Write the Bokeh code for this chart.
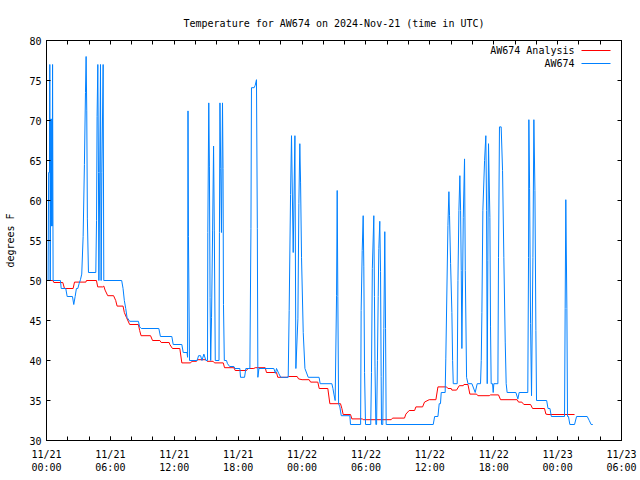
from bokeh.plotting import figure
from bokeh.models import Range1d, FixedTicker, LinearAxis, Label, BoxAnnotation
from bokeh.embed import file_html
from bokeh.resources import INLINE

# ---- data (hours since 2024-11-21 00:00 UTC, degrees F) ----
station_hours = [
    0.05, 0.15, 0.2, 0.28, 0.31, 0.35, 0.4, 0.45, 0.5, 0.53, 0.57, 0.62,
    1.31, 1.38, 1.81, 1.94, 2.44, 2.56, 2.69, 2.81, 2.94, 3.06, 3.19, 3.31, 3.44, 3.56, 3.66, 3.72, 3.78, 3.84, 3.94,
    4.63, 4.7, 4.75, 4.82, 4.88, 4.92, 5.0, 5.07, 5.13, 5.2, 5.32, 5.38,
    7.06, 7.19, 7.31, 7.44, 7.56, 7.81, 8.63, 8.75, 8.9,
    10.55, 10.7, 11.77, 11.9, 12.71, 12.84, 13.2, 13.25, 13.29, 13.33, 13.43, 14.15, 14.28, 14.47, 14.6, 14.78, 14.97,
    15.12, 15.15, 15.24, 15.3, 15.36, 15.42, 15.5, 15.6, 15.69, 15.76, 15.85, 16.2, 16.24, 16.29, 16.36, 16.43, 16.53, 16.58, 16.62, 16.7,
    16.9, 17.0, 17.2, 17.6, 17.7, 18.16, 18.22, 18.6, 18.72, 19.1, 19.2, 19.25, 19.5, 19.6, 19.72, 19.8, 19.85, 19.95,
    21.35, 21.5, 21.6, 21.8, 22.0, 22.7, 22.79, 22.92, 23.01, 23.17, 23.33, 23.42, 23.61, 23.7, 23.79, 23.86, 23.95, 24.11, 24.27,
    24.58, 25.6, 25.7, 26.8, 26.9, 26.99, 27.11, 27.24, 27.3, 27.36, 27.43, 27.55, 27.68, 28.49, 28.55,
    29.5, 29.55, 29.65, 29.74, 29.8, 29.87, 29.96, 30.45, 30.52, 30.6, 30.74, 30.8, 30.85, 30.93, 31.0, 31.08, 31.15,
    31.21, 31.3, 31.37, 31.43, 31.46, 31.58, 31.68, 31.77, 31.84, 31.9,
    36.32, 36.45, 36.76, 36.88, 37.0, 37.07, 37.44, 37.5, 37.7, 37.79, 37.85, 37.95, 38.07, 38.14, 38.2, 38.57, 38.64,
    38.73, 38.82, 38.89, 38.95, 39.01, 39.14, 39.26, 39.33, 39.45, 39.58, 39.95, 40.26, 40.45, 40.76, 40.83, 40.89,
    40.98, 41.14, 41.26, 41.33, 41.39, 41.45, 41.51, 41.64, 41.7, 41.76, 41.89, 41.95, 42.01, 42.39, 42.45, 42.54,
    42.7, 42.83, 42.95, 43.08, 43.17, 43.26, 44.08, 44.27, 44.39,
    45.2, 45.27, 45.3, 45.37, 45.46, 45.55, 45.68, 45.77, 45.87, 45.96, 46.02, 46.97, 47.1, 47.28, 47.41, 48.65,
    48.71, 48.77, 48.87, 48.93, 49.02, 49.15, 49.59, 49.78, 50.78, 50.97, 51.15, 51.3,
]
station_temp = [
    50, 50, 63.5, 63.5, 77, 50, 70.2, 56.8, 70.2, 56.8, 77, 50,
    50, 49, 49, 48, 48, 47, 48, 49, 49, 49.6, 50.1, 50.8, 55.5, 64.5, 73.5, 78, 71.2, 57.7, 51,
    51, 57.5, 70.5, 77, 63.5, 50, 63.5, 77, 50, 63.5, 77, 50,
    50, 49, 47.5, 46.5, 45.4, 44.9, 44.9, 44.2, 44,
    44, 43, 43, 42, 42, 41, 41, 40.4, 71.2, 55.5, 40, 40, 40.6, 40.6, 40, 40.8, 40,
    40, 56, 72.2, 64.2, 47.9, 40, 45.4, 56.3, 66.8, 56.3, 40, 40, 56, 72.2, 64, 56, 72.2, 64, 47, 40,
    40, 39.6, 39.25, 39.25, 39, 39, 37.9, 37.9, 39, 39, 56.5, 74.1, 74.1, 74.4, 75.1, 56.5, 37.9, 39,
    39, 38.4, 39, 38.4, 37.9, 37.9, 46.25, 60.75, 68.1, 53.5, 68.1, 39, 45.2, 59.6, 67.1, 62.3, 52.9, 43.5, 39,
    37.9, 37.9, 37.1, 37.1, 36.5, 35.8, 35, 48.1, 61.25, 48, 34.6, 34.2, 33.1, 33.1, 32,
    32, 46.25, 53.75, 58.1, 51.7, 38.5, 32, 32, 38.5, 51.5, 58.1, 48, 39.2, 32, 32, 40, 48,
    54, 57.4, 51.1, 38, 32, 32, 44, 56.1, 44, 32,
    32, 33, 33, 34.6, 34.6, 36, 36, 40.2, 56.9, 61.1, 58.1, 52.1, 46, 40, 37.1, 37.1, 50,
    58.75, 63.1, 58.75, 51.25, 41.5, 57.9, 65.2, 51.25, 37.9, 37.1, 37.1, 36, 37.1, 37.1, 40, 46,
    58.75, 65, 68.1, 58.75, 37.1, 52.5, 67.1, 57.9, 44.2, 37.1, 37.1, 36, 37.1, 37.1, 52.9, 69.2,
    69.2, 63.75, 52.9, 42.3, 37.1, 36, 36, 35.2, 36,
    36, 52.9, 70.1, 61.5, 44.6, 35.6, 52.9, 70.1, 61.25, 43.75, 35, 35, 34, 34, 33, 33,
    46.5, 60.1, 46.5, 33, 33, 32, 32, 33, 33, 32.5, 32, 32,
]

analysis_hours = [
    0.06, 0.6, 0.69, 1.53, 1.69, 2.5, 2.63, 3.7, 3.75, 4.69, 4.81, 5.28, 5.38, 5.5, 5.75, 6.3, 6.5, 6.63, 7.19,
    7.31, 7.5, 7.81, 8.63, 8.75, 8.88, 9.77, 9.96, 10.65, 10.77, 11.52, 11.58, 11.83, 12.52, 12.71, 13.53, 13.65,
    14.09, 14.15, 14.97, 15.09, 15.65, 15.78, 16.6, 16.72, 17.6, 17.72, 18.79, 18.91, 19.47, 19.6, 20.54, 20.66,
    21.6, 21.72, 22.6, 22.73, 23.54, 23.67, 24.0, 24.67, 24.8, 25.48, 25.61, 26.42, 26.61, 27.61, 27.74, 27.86,
    28.55, 28.68, 29.68, 29.74, 32.37, 32.5, 33.62, 33.75, 34.06, 34.57, 34.69, 35.32, 35.5, 35.94, 36.57, 36.76,
    37.57, 37.7, 38.01, 38.07, 38.51, 38.76, 39.14, 39.2, 39.58, 39.76, 40.39, 40.51, 41.58, 41.7, 42.45, 42.64,
    44.2, 44.33, 44.64, 44.83, 45.46, 45.65, 46.77, 46.9, 47.1, 49.59,
]
analysis_temp = [
    50, 50, 49.75, 49.75, 49, 49, 49.8, 49.8, 50, 50, 49.2, 49.2, 49.3, 48.8, 48.1, 48.1, 47.5, 46.8, 46.8,
    46, 45.4, 44.5, 44.5, 43.75, 43.1, 43.1, 42.5, 42.5, 42.25, 42.25, 42, 41.5, 41.5, 39.7, 39.7, 39.9,
    39.9, 40.1, 40.1, 39.9, 39.9, 39.7, 39.7, 39.1, 39.1, 38.75, 38.75, 39, 39, 39.1, 39.1, 38.5,
    38.5, 37.9, 37.9, 38, 38, 37.7, 37.6, 37.6, 37.3, 37.3, 36.5, 36.5, 34.6, 34.6, 34, 33.25,
    33.25, 32.7, 32.7, 32.6, 32.6, 32.8, 32.8, 33.3, 33.75, 33.75, 34.2, 34.2, 34.8, 35.1, 35.1, 36.7,
    36.7, 36.5, 36.5, 36.3, 36.3, 36.85, 36.85, 37, 37, 35.8, 35.8, 35.6, 35.6, 35.7, 35.7, 35.1,
    35.1, 34.8, 34.8, 34.5, 34.5, 34, 34, 33.3, 33.25, 33.25,
]

x_label_hours = [0, 6, 12, 18, 24, 30, 36, 42, 48, 54]
x_label_text = ["11/21\n00:00", "11/21\n06:00", "11/21\n12:00", "11/21\n18:00",
                "11/22\n00:00", "11/22\n06:00", "11/22\n12:00", "11/22\n18:00",
                "11/23\n00:00", "11/23\n06:00"]
x_minor_hours = list(range(0, 55, 2))
y_ticks = [30, 35, 40, 45, 50, 55, 60, 65, 70, 75, 80]

series_names = ["AW674 Analysis", "AW674"]
series_colors = ["#ff0000", "#0080ff"]
title_text = "Temperature for AW674 on 2024-Nov-21 (time in UTC)"
FONT = "DejaVu Sans Mono"

# ---- figure ----
p = figure(width=640, height=480, output_backend="svg", toolbar_location=None,
           x_range=Range1d(0, 54), y_range=Range1d(30, 80),
           min_border_left=46, min_border_right=19, min_border_top=40, min_border_bottom=40)
p.xgrid.visible = False
p.ygrid.visible = False
p.outline_line_color = "black"
p.outline_line_width = 1
p.background_fill_color = "white"
p.border_fill_color = "white"

p.title.text = title_text
p.title.align = "center"
p.title.text_font = FONT
p.title.text_font_size = "10px"
p.title.text_font_style = "normal"
p.title.text_color = "black"
p.title.standoff = 23

for ax in p.xaxis:
    ax.ticker = FixedTicker(ticks=x_label_hours, minor_ticks=x_minor_hours)
    ax.major_label_overrides = dict(zip(x_label_hours, x_label_text))
    ax.major_tick_in = 4
    ax.major_tick_out = 0
    ax.minor_tick_in = 4
    ax.minor_tick_out = 0
    ax.major_label_standoff = 8
    ax.major_label_text_font = FONT
    ax.major_label_text_font_size = "10px"
    ax.major_label_text_color = "black"
    ax.axis_line_color = "black"

for ax in p.yaxis:
    ax.ticker = FixedTicker(ticks=y_ticks)
    ax.major_tick_in = 4
    ax.major_tick_out = 0
    ax.minor_tick_in = 0
    ax.minor_tick_out = 0
    ax.major_label_standoff = 5
    ax.major_label_text_font = FONT
    ax.major_label_text_font_size = "10px"
    ax.major_label_text_color = "black"
    ax.axis_label = "degrees F"
    ax.axis_label_text_font = FONT
    ax.axis_label_text_font_size = "10px"
    ax.axis_label_text_font_style = "normal"
    ax.axis_label_text_color = "black"
    ax.axis_label_standoff = 10
    ax.axis_line_color = "black"

# mirrored ticks (no labels) on top and right
top_axis = LinearAxis(ticker=FixedTicker(ticks=[], minor_ticks=x_minor_hours),
                      major_tick_in=0, major_tick_out=0, minor_tick_in=4, minor_tick_out=0,
                      major_label_standoff=0, axis_line_color="black")
p.add_layout(top_axis, "above")
right_axis = LinearAxis(ticker=FixedTicker(ticks=[], minor_ticks=y_ticks),
                        major_tick_in=0, major_tick_out=0, minor_tick_in=4, minor_tick_out=0,
                        major_label_standoff=0, axis_line_color="black")
p.add_layout(right_axis, "right")

p.line(analysis_hours, analysis_temp, line_color=series_colors[0], line_width=1)
p.line(station_hours, station_temp, line_color=series_colors[1], line_width=1)

# ---- legend (text left, sample line right, like gnuplot) ----
for i, (name, col) in enumerate(zip(series_names, series_colors)):
    ys = 390 - 13 * i
    p.add_layout(Label(x=528, y=ys, x_units="screen", y_units="screen", text=name,
                       text_align="right", text_baseline="middle", text_font=FONT,
                       text_font_size="10px", text_font_style="normal", text_color="black"))
    p.add_layout(BoxAnnotation(left=535, right=564, bottom=ys - 0.5, top=ys + 0.5,
                               left_units="screen", right_units="screen",
                               bottom_units="screen", top_units="screen",
                               fill_color=col, fill_alpha=1.0, line_color=None))

open("out.html", "w").write(file_html(p, INLINE))
